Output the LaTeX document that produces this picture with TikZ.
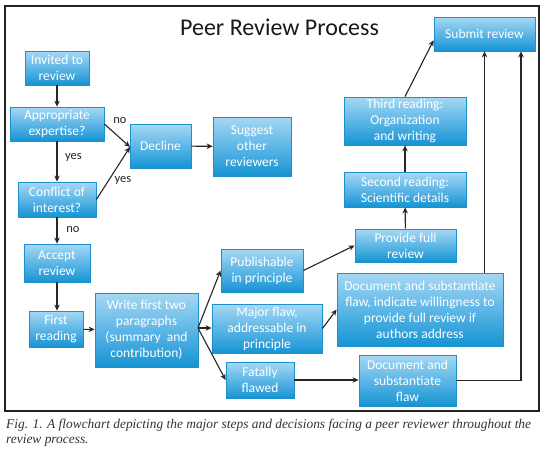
\documentclass[tikz,border=0pt]{standalone}
\usepackage{fontspec}
\setmainfont{Carlito}
\newfontfamily\capfont{Liberation Serif}
\usetikzlibrary{arrows.meta,calc}
\definecolor{boxtop}{HTML}{A6D8F3}
\definecolor{boxmid}{HTML}{5DB6E6}
\definecolor{boxbot}{HTML}{1594D2}
\definecolor{boxborder}{HTML}{1C8FCC}
\definecolor{framec}{HTML}{222222}
\tikzset{
  box/.style={draw=boxborder, line width=0.8pt, top color=boxtop, bottom color=boxbot,
    middle color=boxmid, text=white, align=center,
    font=\fontsize{13.5}{16}\selectfont, inner sep=0pt},
  arr/.style={-{Stealth[length=6pt,width=5.5pt]}, line width=1.1pt, draw=black!85},
  lab/.style={font=\fontsize{12.5}{14}\selectfont, text=black!85, inner sep=0pt}
}
\begin{document}
\begin{tikzpicture}[x=1pt,y=-1pt]
\useasboundingbox (0,0) rectangle (544,459);
\fill[white] (0,0) rectangle (544,459);
\draw[framec, line width=1.4pt] (5,6) rectangle (539,411);
\node[font=\fontsize{24}{28}\selectfont, text=black!90] (title) at (279.5,27) {Peer Review Process};

\node[box, minimum width=64pt, minimum height=34pt] (inv) at (57,68) {Invited to\\review};
\node[box, minimum width=94pt, minimum height=34pt] (app) at (57,124) {Appropriate\\expertise?};
\node[box, minimum width=61pt, minimum height=44pt] (dec) at (160.5,146) {Decline};
\node[box, minimum width=78pt, minimum height=59pt] (sug) at (252,146.5) {Suggest\\other\\reviewers};
\node[box, minimum width=78pt, minimum height=35pt] (coi) at (57,199.5) {Conflict of\\interest?};
\node[box, minimum width=66pt, minimum height=38pt] (acc) at (57,263) {Accept\\review};
\node[box, minimum width=54pt, minimum height=36pt] (fst) at (56,329) {First\\reading};
\node[box, minimum width=103pt, minimum height=74pt] (wri) at (146.5,330) {Write first two\\paragraphs\\(summary~ and\\contribution)};
\node[box, minimum width=82pt, minimum height=43pt] (pub) at (262,270.5) {Publishable\\in principle};
\node[box, minimum width=110pt, minimum height=49pt] (maj) at (267,328.5) {Major flaw,\\addressable in\\principle};
\node[box, minimum width=68pt, minimum height=36pt] (fat) at (260,380) {Fatally\\flawed};
\node[box, minimum width=101pt, minimum height=33pt] (pfr) at (405.5,245.5) {Provide full\\review};
\node[box, minimum width=166pt, minimum height=73pt] (doc1) at (420,309.5) {Document and substantiate\\flaw, indicate willingness to\\provide full review if\\authors address};
\node[box, minimum width=97pt, minimum height=51pt] (doc2) at (407.5,380.5) {Document and\\substantiate\\flaw};
\node[box, minimum width=122pt, minimum height=35pt] (sec) at (405,189.5) {Second reading:\\Scientific details};
\node[box, minimum width=122pt, minimum height=48pt] (thr) at (405,121) {Third reading:\\Organization\\and writing};
\node[box, minimum width=101pt, minimum height=34pt] (sub) at (484.5,34) {Submit review};

\coordinate (jn) at (130,147);
\coordinate (wr) at (198,328);

\draw[arr] (inv) -- (app);
\draw[arr] (app) -- (coi);
\draw[arr] (app.east) -- (jn);
\draw[arr] (coi.east) -- (jn);
\draw[arr] (dec) -- (sug);
\draw[arr] (coi) -- (acc);
\draw[arr] (acc.south) -- (acc.south |- fst.north);
\draw[arr] (fst) -- (wri);
\draw[arr] (wr) -- (pub.west);
\draw[arr] (wr) -- (maj.west |- wr);
\draw[arr] (wr) -- (fat.west);
\draw[arr] (pub.east) -- (pfr.west);
\draw[arr] (maj.east) -- (doc1.west);
\draw[arr] (fat) -- (fat -| doc2.west);
\draw[arr] (pfr) -- (sec);
\draw[arr] (sec) -- (thr);
\draw[arr] (thr.north) -- (sub.187);
\draw[arr] (sub.south |- doc1.north) -- (sub.south);
\coordinate (rt) at ($(sub.south)+(36.5,0)$);
\draw[arr] (doc2.east) -| (rt);

\node[lab] (lno1) at (120,121) {no};
\node[lab] (lyes1) at (73.5,157) {yes};
\node[lab] (lyes2) at (123,180) {yes};
\node[lab] (lno2) at (73,229.5) {no};

\node[anchor=north west, align=left, inner sep=0pt, text=black!80,
  font=\capfont\itshape\fontsize{13.4}{15}\selectfont] (cap) at (6,419)
  {Fig. 1. A flowchart depicting the major steps and decisions facing a peer reviewer throughout the\\review process.};
\end{tikzpicture}
\end{document}
